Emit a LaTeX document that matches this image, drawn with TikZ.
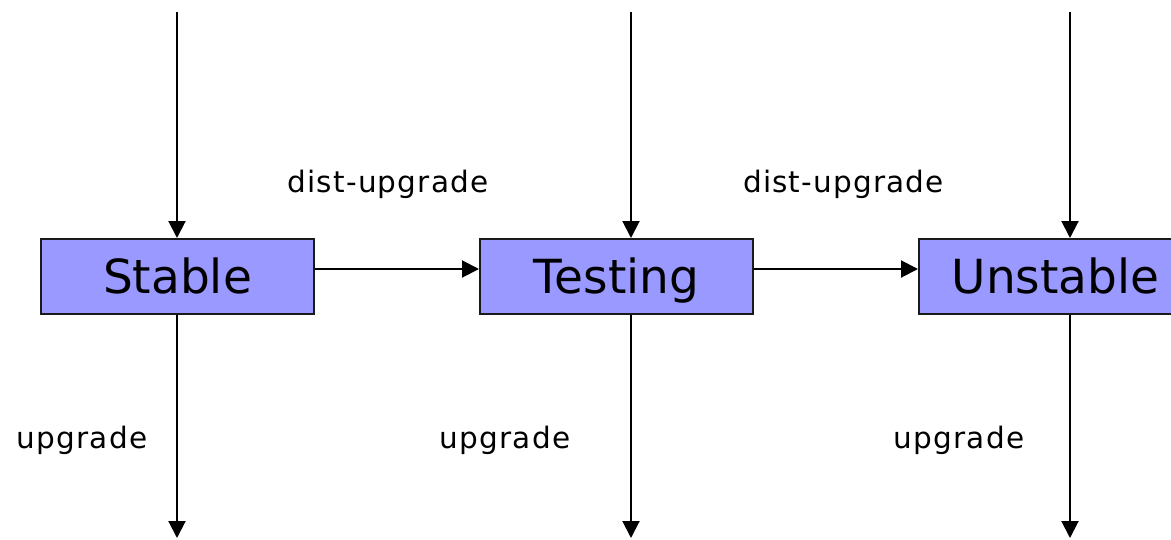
\documentclass[tikz,border=0pt]{standalone}
\usepackage{fontspec}
\setmainfont{DejaVu Sans}
\newfontfamily\labelfont[LetterSpace=4]{DejaVu Sans}
\usetikzlibrary{arrows.meta}
\definecolor{boxfill}{HTML}{9999FF}
\definecolor{boxline}{HTML}{1A1A1A}
\tikzset{
  stagebox/.style={draw=boxline, line width=2pt, fill=boxfill, minimum width=273pt, minimum height=75pt, inner sep=0pt, text height=34pt, text depth=0pt, font=\fontsize{47}{56}\selectfont},
  flow/.style={line width=2pt, -{Triangle[length=17pt,width=17pt]}},
  lbl/.style={inner sep=0pt, font=\labelfont\fontsize{29.5}{35}\selectfont}
}
\begin{document}
\begin{tikzpicture}[x=1pt,y=-1pt]
\useasboundingbox (0,0) rectangle (1171,539);
\clip (0,0) rectangle (1171,539);
\node[stagebox] (stable) at (177.5,276.5) {Stable};
\node[stagebox] (testing) at (616.5,276.5) {Testing};
\node[stagebox] (unstable) at (1055.5,276.5) {Unstable};
\coordinate (t1) at (177,12);
\coordinate (t2) at (631,12);
\coordinate (t3) at (1070,12);
\coordinate (b1) at (177,538);
\coordinate (b2) at (631,538);
\coordinate (b3) at (1070,538);
\coordinate (hy) at (0,269);
\draw[flow] (t1) -- (t1 |- stable.north);
\draw[flow] (t2) -- (t2 |- testing.north);
\draw[flow] (t3) -- (t3 |- unstable.north);
\draw[flow] (b1 |- stable.south) -- (b1);
\draw[flow] (b2 |- testing.south) -- (b2);
\draw[flow] (b3 |- unstable.south) -- (b3);
\draw[flow] (stable.east |- hy) -- (testing.west |- hy);
\draw[flow] (testing.east |- hy) -- (unstable.west |- hy);
\node[lbl] (d1) at (388,184) {dist-upgrade};
\node[lbl] (d2) at (843.5,184) {dist-upgrade};
\node[lbl] (u1) at (82,440) {upgrade};
\node[lbl] (u2) at (505,440) {upgrade};
\node[lbl] (u3) at (959,440) {upgrade};
\end{tikzpicture}
\end{document}
